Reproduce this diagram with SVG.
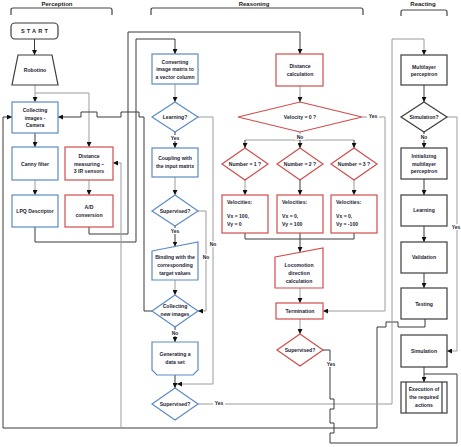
<svg xmlns="http://www.w3.org/2000/svg" width="461" height="447" viewBox="0 0 461 447">
<defs>
<marker id="ah" markerWidth="5" markerHeight="5" refX="5" refY="2.5" orient="auto" markerUnits="userSpaceOnUse">
<path d="M0,0 L5,2.5 L0,5 z" fill="#111"/>
</marker>
<style>
text{font-family:"Liberation Sans",Arial,sans-serif;font-size:5.1px;font-weight:bold;fill:#222233;text-anchor:middle}
.h{font-size:6px;fill:#1a1a1a}
.lb{font-size:5px}
.l{text-anchor:start}
.br{fill:none;stroke:#444;stroke-width:1.2}
.blue{fill:#fff;stroke:#5b8bc4;stroke-width:1.2}
.red{fill:#fff;stroke:#d24b4b;stroke-width:1.2}
.dk{fill:#fff;stroke:#3c3c3c;stroke-width:1.2}
.c{fill:none;stroke:#3a3a3a;stroke-width:1}
.g{fill:none;stroke:#9c9c9c;stroke-width:1}
.a{marker-end:url(#ah)}
.bg{fill:#fff}
</style>
</defs>
<rect width="461" height="447" fill="#fff"/>

<g id="headers">
<text class="h" x="57" y="6">Perception</text>
<path class="br" d="M11,15 V10 Q11,8 13,8 H110 Q112,8 112,10 V15"/>
<text class="h" x="254" y="6">Reasoning</text>
<path class="br" d="M151,15 V10 Q151,8 153,8 H361 Q363,8 363,10 V15"/>
<text class="h" x="423" y="6">Reacting</text>
<path class="br" d="M401,16 V12 Q401,10 403,10 H445 Q447,10 447,12 V16"/>
</g>

<g id="connectors">
<path class="c a" d="M34.5,39 V55"/>
<path class="g a" d="M35,85 V102"/>
<path class="g a" d="M35,93 H89 V147"/>
<path class="c a" d="M35,133 V147"/>
<path class="g a" d="M35,180 V195"/>
<path class="g a" d="M89,180 V195"/>
<path class="c a" d="M35,227 V242 H136 V39 H175 V54"/>
<path class="c a" d="M89,227 V234 H128 V32 H300 V54"/>
<path class="c a" d="M152,311 H144 V117 H139 V112 H121 V117 H97 V112 H81 V117 H58"/>
<path class="c a" d="M425,319 V327 H398 V322 H386 V327 H377 V428 H3 V117 H12"/>
<path class="g a" d="M121,428 V163 H113"/>
<path class="g a" d="M175,84 V102"/>
<path class="c a" d="M175,132 V148"/>
<path class="g a" d="M198,117 H213 V384 H177"/>
<path class="g a" d="M175,177 V195"/>
<path class="c a" d="M175,226 V246.5"/>
<path class="g a" d="M198,211 H206 V311 H198"/>
<path class="g a" d="M175,280 V295"/>
<path class="c a" d="M175,327 V342"/>
<path class="c a" d="M175,375 V388"/>
<path class="g a" d="M198,404 H392 V39 H424 V55"/>
<path class="g a" d="M300,86 V102"/>
<path class="g a" d="M362,117 H385 V311 H323"/>
<path class="g" d="M300,132 V140 M245,140 H354"/>
<path class="c a" d="M245,140 V148"/>
<path class="c a" d="M300,140 V148"/>
<path class="c a" d="M354,140 V148"/>
<path class="g a" d="M245,180 V195"/>
<path class="c a" d="M300,180 V195"/>
<path class="g a" d="M354,180 V195"/>
<path class="c" d="M245,233 V239 H354 V233"/>
<path class="c a" d="M300,233 V252"/>
<path class="g a" d="M300,288 V303"/>
<path class="g a" d="M300,319 V334"/>
<path class="c" d="M323,350 H330 V399 H334 V409 H330 V423 H334 V433 H330 V443 H457 V374 H424"/>
<path class="g a" d="M447,117 H457 V351 H447"/>
<path class="c a" d="M424,367 V382"/>
<path class="c a" d="M424,85 V102"/>
<path class="c a" d="M424,132 V148"/>
<path class="c a" d="M424,179 V195"/>
<path class="c a" d="M424,226 V242"/>
<path class="c a" d="M424,273 V288"/>
</g>

<g id="edge-labels">
<rect class="bg" x="170" y="135" width="10" height="6"/><text class="lb" x="175" y="140">Yes</text>
<rect class="bg" x="208" y="241" width="10" height="6"/><text class="lb" x="213" y="246">No</text>
<rect class="bg" x="170" y="228" width="10" height="6"/><text class="lb" x="175" y="233">Yes</text>
<rect class="bg" x="201" y="254" width="10" height="6"/><text class="lb" x="206" y="259">No</text>
<rect class="bg" x="170" y="330" width="10" height="6"/><text class="lb" x="175" y="335">No</text>
<rect class="bg" x="213" y="400" width="12" height="6"/><text class="lb" x="219" y="405">Yes</text>
<rect class="bg" x="295" y="134" width="10" height="6"/><text class="lb" x="300" y="139">No</text>
<rect class="bg" x="367" y="113" width="12" height="6"/><text class="lb" x="373" y="118">Yes</text>
<rect class="bg" x="325" y="361" width="12" height="6"/><text class="lb" x="331" y="366">Yes</text>
<rect class="bg" x="451" y="224" width="10" height="6"/><text class="lb" x="456" y="229">Yes</text>
<rect class="bg" x="419" y="134" width="10" height="6"/><text class="lb" x="424" y="139">No</text>
</g>

<g id="start">
<rect class="dk" x="11" y="23" width="47" height="16" rx="4"/>
<text x="35.5" y="33" style="font-size:5.6px;letter-spacing:2.2px;fill:#1a1a1a">START</text>
</g>
<g id="robotino">
<polygon class="dk" points="18,55 52,55 58,85 12,85"/>
<text x="35" y="72">Robotino</text>
</g>
<g id="collecting-images">
<rect class="blue" x="12" y="102" width="46" height="31"/>
<text x="35" y="112">Collecting</text><text x="35" y="119.5">images -</text><text x="35" y="127">Camera</text>
</g>
<g id="canny">
<rect class="blue" x="12" y="147" width="46" height="33"/>
<text x="35" y="165.5">Canny filter</text>
</g>
<g id="lpq">
<rect class="blue" x="12" y="195" width="46" height="32"/>
<text x="35" y="213">LPQ Descriptor</text>
</g>
<g id="distance-measuring">
<rect class="red" x="65" y="147" width="48" height="33"/>
<text x="89" y="158">Distance</text><text x="89" y="165.5">measuring –</text><text x="89" y="173">3 IR sensors</text>
</g>
<g id="ad-conversion">
<rect class="red" x="65" y="195" width="48" height="32"/>
<text x="89" y="209">A/D</text><text x="89" y="217">conversion</text>
</g>

<g id="converting">
<rect class="blue" x="152" y="54" width="46" height="30"/>
<text x="175" y="63.5">Converting</text><text x="175" y="71">image matrix to</text><text x="175" y="78.5">a vector column</text>
</g>
<g id="learning-q">
<polygon class="blue" points="175,102 198,117 175,132 152,117"/>
<text x="175" y="119">Learning?</text>
</g>
<g id="coupling">
<rect class="blue" x="152" y="148" width="46" height="29"/>
<text x="175" y="160">Coupling with</text><text x="175" y="167.5">the input matrix</text>
</g>
<g id="supervised-1">
<polygon class="blue" points="175,195 198,211 175,226 152,211"/>
<text x="175" y="213">Supervised?</text>
</g>
<g id="binding">
<polygon class="blue" points="152,251 198,242 198,280 152,280"/>
<text x="175" y="259">Binding with the</text><text x="175" y="267">corresponding</text><text x="175" y="275">target values</text>
</g>
<g id="collecting-new">
<polygon class="blue" points="175,295 198,311 175,327 152,311"/>
<text x="175" y="308">Collecting</text><text x="175" y="315.5">new images</text>
</g>
<g id="generating">
<polygon class="blue" points="152,342 198,342 198,370 193,375 157,375 152,370"/>
<text x="175" y="356">Generating a</text><text x="175" y="363.5">data set</text>
</g>
<g id="supervised-2">
<polygon class="blue" points="175,388 198,404 175,420 152,404"/>
<text x="175" y="406">Supervised?</text>
</g>

<g id="distance-calc">
<rect class="red" x="276" y="54" width="47" height="32"/>
<text x="300" y="68">Distance</text><text x="300" y="75.5">calculation</text>
</g>
<g id="velocity-q">
<polygon class="red" points="300,102 362,117 300,132 238,117"/>
<text x="300" y="119">Velocity = 0 ?</text>
</g>
<g id="number-1">
<polygon class="red" points="245,148 268,164 245,180 222,164"/>
<text x="245" y="166">Number = 1 ?</text>
</g>
<g id="number-2">
<polygon class="red" points="300,148 323,164 300,180 277,164"/>
<text x="300" y="166">Number = 2 ?</text>
</g>
<g id="number-3">
<polygon class="red" points="354,148 377,164 354,180 331,164"/>
<text x="354" y="166">Number = 3 ?</text>
</g>
<g id="vel-1">
<rect class="red" x="222" y="195" width="46" height="38"/>
<text class="l" x="227" y="203.5">Velocities:</text><text class="l" x="227" y="218">Vx = 100,</text><text class="l" x="227" y="226">Vy = 0</text>
</g>
<g id="vel-2">
<rect class="red" x="277" y="195" width="46" height="38"/>
<text class="l" x="282" y="203.5">Velocities:</text><text class="l" x="282" y="218">Vx = 0,</text><text class="l" x="282" y="226">Vy = 100</text>
</g>
<g id="vel-3">
<rect class="red" x="331" y="195" width="46" height="38"/>
<text class="l" x="336" y="203.5">Velocities:</text><text class="l" x="336" y="218">Vx = 0,</text><text class="l" x="336" y="226">Vy = -100</text>
</g>
<g id="locomotion">
<polygon class="red" points="275,257 323,248 323,288 275,288"/>
<text x="299" y="267">Locomotion</text><text x="299" y="275">direction</text><text x="299" y="282.5">calculation</text>
</g>
<g id="termination">
<rect class="red" x="276" y="303" width="47" height="16"/>
<text x="300" y="313">Termination</text>
</g>
<g id="supervised-3">
<polygon class="red" points="300,334 323,350 300,366 277,350"/>
<text x="300" y="352">Supervised?</text>
</g>

<g id="multilayer">
<rect class="dk" x="401" y="55" width="46" height="30"/>
<text x="424" y="68.5">Multilayer</text><text x="424" y="76">perceptron</text>
</g>
<g id="simulation-q">
<polygon class="dk" points="424,102 447,117 424,132 401,117"/>
<text x="424" y="119">Simulation?</text>
</g>
<g id="initializing">
<rect class="dk" x="401" y="148" width="46" height="31"/>
<text x="424" y="158">Initializing</text><text x="424" y="165.5">multilayer</text><text x="424" y="173">perceptron</text>
</g>
<g id="learning">
<rect class="dk" x="401" y="195" width="46" height="31"/>
<text x="424" y="212">Learning</text>
</g>
<g id="validation">
<rect class="dk" x="401" y="242" width="46" height="31"/>
<text x="424" y="259">Validation</text>
</g>
<g id="testing">
<rect class="dk" x="401" y="288" width="46" height="31"/>
<text x="424" y="305.5">Testing</text>
</g>
<g id="simulation">
<rect class="dk" x="401" y="335" width="46" height="32"/>
<text x="424" y="352.5">Simulation</text>
</g>
<g id="execution">
<rect class="dk" x="401" y="382" width="46" height="31"/>
<path class="dk" d="M406,382 V413 M442,382 V413"/>
<text x="424" y="391">Execution of</text><text x="424" y="399">the required</text><text x="424" y="407">actions</text>
</g>
</svg>
